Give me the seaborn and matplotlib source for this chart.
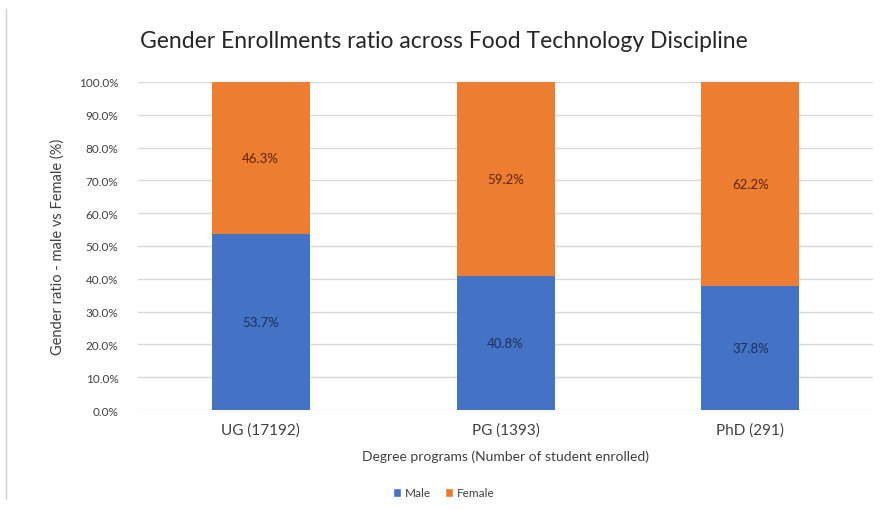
import matplotlib
matplotlib.use("Agg")
import matplotlib.pyplot as plt
import seaborn as sns
import pandas as pd
from matplotlib.patches import Patch
from matplotlib.lines import Line2D

categories = ["UG (17192)", "PG (1393)", "PhD (291)"]
male = [53.7, 40.8, 37.8]
female = [46.3, 59.2, 62.2]
yticks = [0, 10, 20, 30, 40, 50, 60, 70, 80, 90, 100]

sns.set_theme(style="white")
plt.rcParams['font.family'] = ['Lato', 'DejaVu Sans']

blue = "#4472C4"
orange = "#ED7D31"

df = pd.DataFrame({"cat": categories, "male": male, "female": female})
df["total"] = df["male"] + df["female"]

fig = plt.figure(figsize=(8.87, 5.10), dpi=100)
ax = fig.add_axes([138/887, 1-411/510, 735/887, 328/510])

sns.barplot(data=df, x="cat", y="total", color=orange, width=0.4, ax=ax,
            saturation=1, zorder=2, linewidth=0)
sns.barplot(data=df, x="cat", y="male", color=blue, width=0.4, ax=ax,
            saturation=1, zorder=3, linewidth=0)

for i, (m, f) in enumerate(zip(male, female)):
    ax.text(i, m/2, f"{m:.1f}%", ha="center", va="center", fontsize=9.5,
            color="#1f2f5a", zorder=5)
    ax.text(i, m + f/2, f"{f:.1f}%", ha="center", va="center", fontsize=9.5,
            color="#5a2408", zorder=5)

ax.set_ylim(0, 100)
ax.set_xlim(-0.5, 2.5)
ax.set_yticks(yticks)
ax.set_yticklabels([f"{v:.1f}%" for v in yticks], fontsize=8.5, color="#404040")
ax.yaxis.grid(True, color="#d9d9d9", linewidth=1, zorder=0)
ax.set_axisbelow(True)
for s in ax.spines.values():
    s.set_visible(False)
ax.tick_params(axis="y", length=0, pad=14)
ax.tick_params(axis="x", length=0, pad=9, labelsize=11, labelcolor="#404040")
ax.set_xlabel("Degree programs (Number of student enrolled)", fontsize=10,
              color="#404040", labelpad=9)
ax.set_ylabel("Gender ratio - male vs Female (%)", fontsize=10.5, color="#404040",
              labelpad=10)

fig.text(0.5, 1-42/510, "Gender Enrollments ratio across Food Technology Discipline",
         ha="center", va="center", fontsize=16.5, color="#262626")

handles = [Patch(facecolor=blue, label="Male"), Patch(facecolor=orange, label="Female")]
fig.legend(handles=handles, loc="center", bbox_to_anchor=(0.5, 1-494/510), ncol=2,
           frameon=False, fontsize=8.5, handlelength=0.7, handleheight=0.7,
           handletextpad=0.3, columnspacing=1.2, labelcolor="#404040")

fig.add_artist(Line2D([6/887, 6/887], [0.02, 0.98], color="#d0d0d0", linewidth=1))

fig.savefig("out.png", dpi=100)
